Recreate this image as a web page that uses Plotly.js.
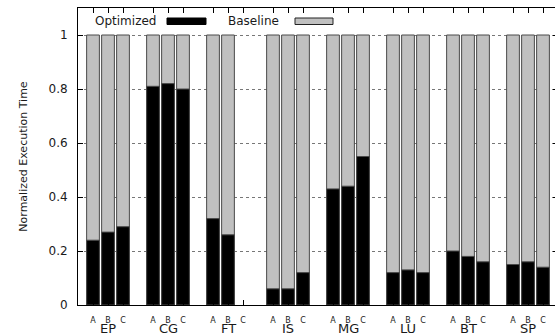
<!DOCTYPE html>
<html>
<head>
<meta charset="utf-8">
<script src="https://cdn.plot.ly/plotly-3.0.1.min.js"></script>
<style>
html,body{margin:0;padding:0;width:555px;height:335px;overflow:hidden;background:#fff;}
#chart{width:558px;height:335px;}
</style>
</head>
<body>
<div id="chart"></div>
<script>
// ---- data ----
const benchmarks = ["EP", "CG", "FT", "IS", "MG", "LU", "BT", "SP"];
const inputs = ["A", "B", "C"];
const seriesNames = ["Optimized", "Baseline"];
// normalized execution time of optimized runs (null = not run)
const optimized = [
  [0.24, 0.27, 0.29],   // EP
  [0.81, 0.82, 0.80],   // CG
  [0.32, 0.26, null],   // FT
  [0.06, 0.06, 0.12],   // IS
  [0.43, 0.44, 0.55],   // MG
  [0.12, 0.13, 0.12],   // LU
  [0.20, 0.18, 0.16],   // BT
  [0.15, 0.16, 0.14]    // SP
];
const baseline = [
  [1, 1, 1],
  [1, 1, 1],
  [1, 1, null],
  [1, 1, 1],
  [1, 1, 1],
  [1, 1, 1],
  [1, 1, 1],
  [1, 1, 1]
];
const yTicks = [0, 0.2, 0.4, 0.6, 0.8, 1];

// ---- build ----
const slot = inputs.length + 1;
const xs = [], xt = [], yOpt = [], yBase = [];
benchmarks.forEach((b, g) => {
  inputs.forEach((inp, i) => {
    xs.push(g * slot + i);
    xt.push(inp);
    yOpt.push(optimized[g][i]);
    yBase.push(baseline[g][i]);
  });
});

const FONT = "DejaVu Sans";
const TXT = "#1a1a1a";
const barW = 0.85;

const traces = [
  {type: "bar", x: xs, y: yBase, name: seriesNames[1], width: barW,
   marker: {color: "#c0c0c0", line: {color: "#4a4a4a", width: 1}}, hoverinfo: "skip"},
  {type: "bar", x: xs, y: yOpt, name: seriesNames[0], width: barW,
   marker: {color: "#000000", line: {color: "#4a4a4a", width: 1}}, hoverinfo: "skip"}
];

const L = 78, T = 8, W = 480, H = 297;
const px = v => (v - L) / W;
const py = v => (T + H - v) / H;

const annotations = benchmarks.map((b, g) => ({
  text: b, x: g * slot + 1, xref: "x", y: py(328.5), yref: "paper",
  xanchor: "center", yanchor: "middle", showarrow: false,
  font: {family: FONT, size: 13, color: TXT}
}));
annotations.push(
  {text: seriesNames[0], x: px(158), y: py(21), xref: "paper", yref: "paper",
   xanchor: "right", yanchor: "middle", showarrow: false,
   font: {family: FONT, size: 12, color: TXT}},
  {text: seriesNames[1], x: px(281), y: py(21), xref: "paper", yref: "paper",
   xanchor: "right", yanchor: "middle", showarrow: false,
   font: {family: FONT, size: 12, color: TXT}}
);

const shapes = [
  {type: "rect", xref: "paper", yref: "paper", x0: px(167), x1: px(206), y0: py(24.5), y1: py(18),
   fillcolor: "#000", line: {color: "#000", width: 1}},
  {type: "rect", xref: "paper", yref: "paper", x0: px(295), x1: px(333), y0: py(24.5), y1: py(18),
   fillcolor: "#c0c0c0", line: {color: "#222", width: 1}}
];

const layout = {
  width: 558, height: 335,
  margin: {l: L, r: 0, t: T, b: 30, pad: 0},
  paper_bgcolor: "#fff", plot_bgcolor: "#fff",
  barmode: "overlay", showlegend: false,
  font: {family: FONT, color: TXT},
  xaxis: {
    range: [-1, benchmarks.length * slot - 1],
    tickmode: "array", tickvals: xs, ticktext: xt,
    ticks: "inside", ticklen: 5, tickcolor: "#000", tickwidth: 1,
    tickfont: {family: FONT, size: 8, color: TXT},
    ticklabelstandoff: 7,
    showline: true, linecolor: "#000", linewidth: 1, mirror: "allticks",
    showgrid: false, zeroline: false, fixedrange: true
  },
  yaxis: {
    range: [0, 1.1],
    tickmode: "array", tickvals: yTicks, ticktext: yTicks.map(String),
    ticks: "inside", ticklen: 5, tickcolor: "#000", tickwidth: 1,
    tickfont: {family: FONT, size: 12, color: TXT},
    ticklabelstandoff: 7,
    showline: true, linecolor: "#000", linewidth: 1, mirror: "allticks",
    showgrid: true, gridcolor: "#777", griddash: "dot", gridwidth: 1,
    zeroline: false, fixedrange: true,
    title: {text: "Normalized Execution Time", font: {family: FONT, size: 11, color: TXT}, standoff: 18}
  },
  annotations: annotations,
  shapes: shapes
};

Plotly.newPlot("chart", traces, layout, {staticPlot: true, displayModeBar: false});
</script>
</body>
</html>
